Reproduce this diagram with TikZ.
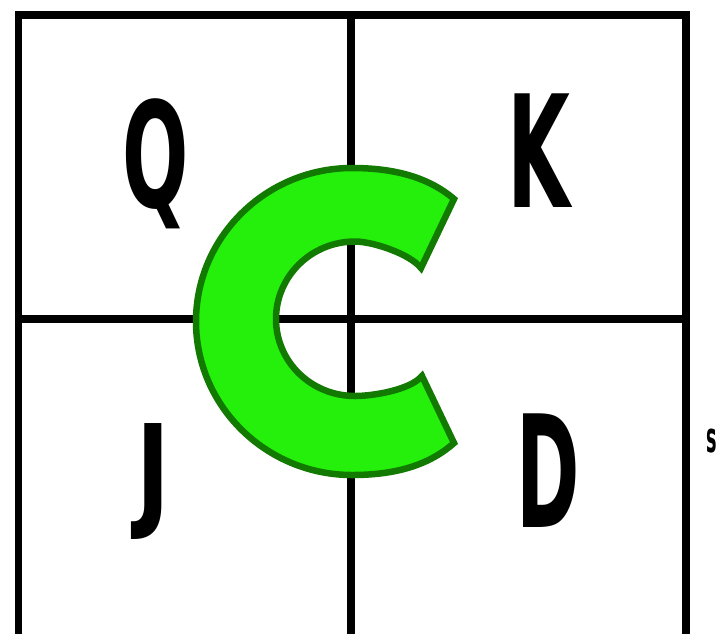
\documentclass[tikz,border=0pt]{standalone}
\usepackage{fontspec}
\newfontfamily\letterfont{DejaVu Sans}
\definecolor{cfill}{RGB}{36,240,12}
\definecolor{cdraw}{RGB}{18,122,0}
\tikzset{
  gridline/.style={line width=7.5pt, black},
  bigletter/.style={anchor=base, inner sep=0pt, font=\letterfont\bfseries\fontsize{156}{160}\selectfont},
  smallletter/.style={anchor=base, inner sep=0pt, font=\letterfont\bfseries\fontsize{42}{44}\selectfont},
  cshape/.style={fill=cfill, draw=cdraw, line width=6.5pt, line join=miter}
}
\begin{document}
\begin{tikzpicture}[x=1pt,y=-1pt]
\useasboundingbox (0,0) rectangle (719,633);
\clip (0,0) rectangle (719,633);
% grid
\draw[gridline] (18.5,700) -- (18.5,15) -- (686,15) -- (686,700);
\draw[gridline] (351,15) -- (351,700);
\draw[gridline] (18.5,319) -- (686,319);
% letters
\node[bigletter] (q) at (156,207) {\scalebox{0.5}[0.94]{Q}};
\node[bigletter] (k) at (539,207) {\scalebox{0.52}[1]{K}};
\node[bigletter] (j) at (153,514) {\scalebox{0.58}[0.8]{J}};
\node[bigletter] (d) at (548,527) {\scalebox{0.49}[1]{D}};
\node[smallletter] (s) at (712,452) {\scalebox{0.42}[1]{s}};
% C shape
\draw[cshape] (454,199)
  .. controls (426,175) and (389,168) .. (352,168)
  .. controls (266,168) and (196,237) .. (196,321.5)
  .. controls (196,406) and (266,475) .. (352,475)
  .. controls (389,475) and (426,468) .. (454,443)
  -- (422,376)
  .. controls (410,390) and (373,396) .. (355,396)
  .. controls (311,396) and (276,361.5) .. (276,319)
  .. controls (276,276.5) and (311,241.5) .. (355,241.5)
  .. controls (373,241.5) and (410,254) .. (421,268)
  -- cycle;
\end{tikzpicture}
\end{document}
